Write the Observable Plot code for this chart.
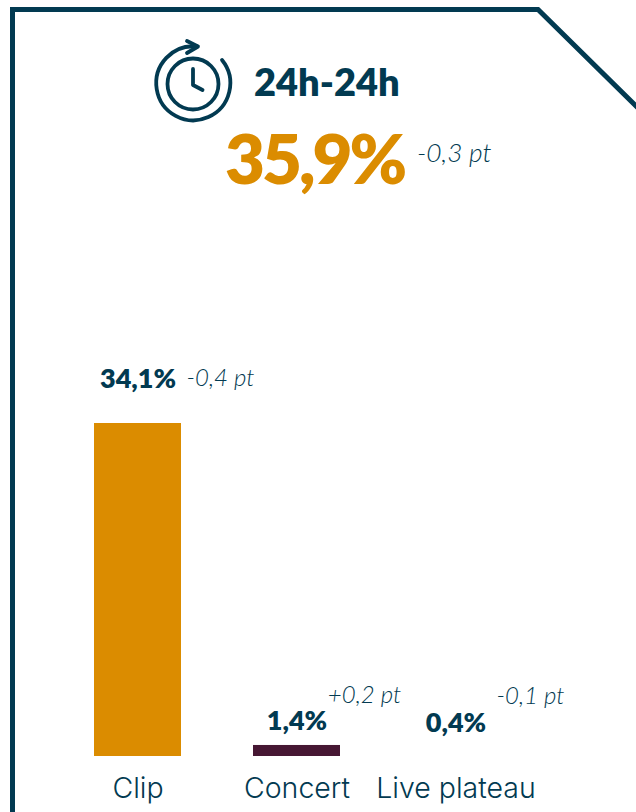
<!DOCTYPE html>
<html><head><meta charset="utf-8">
<script src="https://cdn.jsdelivr.net/npm/d3@7"></script>
<script src="https://cdn.jsdelivr.net/npm/@observablehq/plot@0.6"></script>
<style>
html,body{margin:0;padding:0;background:#fff;width:636px;height:812px;overflow:hidden}
#root{position:relative;width:636px;height:812px}
#root svg{position:absolute;left:0;top:0}
.h{position:absolute;white-space:nowrap;font-family:Lato,sans-serif;line-height:1}
</style></head><body>
<div id="root"></div>
<script>
const categories = ["Clip","Concert","Live plateau"];
const shares = [34.1,1.4,0.4];
const shareLabels = ["34,1%","1,4%","0,4%"];
const deltas = ["-0,4 pt","+0,2 pt","-0,1 pt"];
const barColors = ["#DB8C00","#461733","#FFFFFF"];
const headline = "35,9%";
const headlineDelta = "-0,3 pt";
const title = "24h-24h";
const navy = "#023A51";
const rows = categories.map((c,i)=>({c,v:shares[i],l:shareLabels[i],d:deltas[i],col:barColors[i]}));
const font = "Lato, sans-serif";
const thin = "Inter, sans-serif";
const labelMark = (name,dy)=>Plot.text(rows,{x:"c",y:"v",text:"l",dy,fontFamily:font,fontSize:27,fontWeight:800,fill:navy,filter:d=>d.c===name});
const deltaMark = (name,dx,dy)=>Plot.text(rows,{x:"c",y:"v",text:"d",dx,dy,fontFamily:font,fontSize:24,fontStyle:"italic",fontWeight:300,fill:navy,filter:d=>d.c===name});
const plot = Plot.plot({
  width:636,height:812,margin:0,
  x:{type:"band",domain:categories,range:[56.4,536.3],paddingInner:0.45,paddingOuter:0.225,axis:null},
  y:{domain:[0.28,34.1],range:[756,423],axis:null},
  marks:[
    Plot.barY(rows,{x:"c",y1:0.28,y2:"v",fill:"col"}),
    Plot.text(rows,{x:"c",y:()=>0.28,text:"c",dy:32,fontFamily:thin,fontSize:28.5,fill:navy,fontWeight:300}),
    labelMark("Clip",-44),labelMark("Concert",-24),labelMark("Live plateau",-32),
    deltaMark("Clip",82.5,-45),deltaMark("Concert",67.5,-50),deltaMark("Live plateau",74.5,-59)
  ]
});
const root = document.getElementById("root");
root.insertAdjacentHTML("beforeend",`<svg width="636" height="812" fill="none" stroke="${navy}">
<path d="M12.5 812V9.5H538L640 110" stroke-width="5"/>
<g stroke-width="3.8" stroke-linecap="round" stroke-linejoin="round">
<circle cx="193" cy="84" r="25.5"/>
<path d="M193 69V85L202.5 90"/>
<path d="M222 60A37 37 0 1 1 197 46.5"/>
<path d="M187 41L198 46.5L187 53"/>
</g></svg>`);
root.appendChild(plot);
root.insertAdjacentHTML("beforeend",`
<div class="h" style="left:254px;top:62px;font-size:38px;font-weight:800;color:${navy}">${title}</div>
<div class="h" style="left:225px;top:123px;font-size:69px;font-weight:800;letter-spacing:-3px;color:#DB8C00">${headline}</div>
<div class="h" style="left:417px;top:139px;font-size:26.3px;font-style:italic;font-weight:300;color:${navy}">${headlineDelta}</div>`);
</script></body></html>
